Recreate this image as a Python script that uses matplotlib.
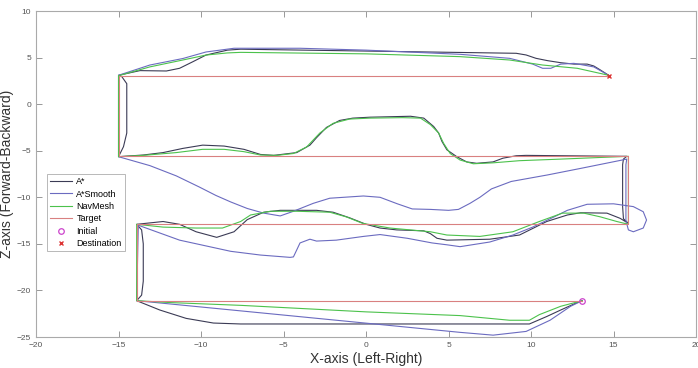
import numpy as np
import matplotlib.pyplot as plt

plt.rcParams['font.family'] = ['Liberation Sans', 'DejaVu Sans']

# Waypoints (x = left/right, z = forward/backward)
target_x = [13.1, -13.9, -13.9, 15.9, 15.9, -15.0, -15.0, 14.7]
target_z = [-21.1, -21.1, -12.9, -12.9, -5.55, -5.55, 3.05, 3.05]

astar_x = [13.1, 12.8, 11.8, 10.95, 9.9, 5.0, 0.0, -7.6, -9.25, -10.9, -12.5, -13.9,
           -13.6, -13.5, -13.5, -13.6, -13.9,
           -12.3, -11.3, -10.3, -9.05, -8.0, -7.2, -6.2, -5.2, -3.0, -2.0, -1.0, 0.0, 0.85,
           1.86, 3.5, 3.9, 4.3, 4.9, 7.5, 9.3, 10.95, 12.2, 13.0, 14.6, 15.4, 15.9,
           15.6, 15.55, 15.55, 15.6, 15.8,
           13.8, 9.7, 9.1, 8.3, 7.7, 6.7, 6.1, 5.5, 4.9, 4.6, 4.4, 4.1, 3.5, 2.7, 0.24,
           -0.8, -1.6, -2.4, -3.0, -3.4, -4.2, -5.6, -6.4, -7.4, -8.6, -9.9, -11.1, -12.3,
           -13.5, -15.0,
           -14.7, -14.5, -14.5, -14.5, -14.8, -15.0,
           -13.7, -12.1, -11.3, -10.5, -9.7, -8.4, -7.6, 0.0, 9.1, 9.7, 10.3, 11.0, 11.8,
           12.6, 13.4, 13.8, 14.2, 14.7]
astar_z = [-21.1, -21.3, -22.1, -22.8, -23.6, -23.6, -23.6, -23.6, -23.5, -23.0, -22.1, -21.1,
           -20.5, -19.0, -15.0, -13.5, -12.9,
           -12.6, -12.9, -13.7, -14.3, -13.7, -12.4, -11.6, -11.4, -11.4, -11.6, -12.2, -12.9, -13.3,
           -13.5, -13.6, -13.9, -14.4, -14.6, -14.5, -14.05, -12.6, -11.9, -11.66, -11.7, -12.26, -12.8,
           -12.3, -11.0, -6.5, -5.9, -5.6,
           -5.57, -5.5, -5.54, -5.8, -6.2, -6.35, -6.2, -5.64, -4.9, -4.0, -3.1, -2.4, -1.5, -1.3, -1.4,
           -1.5, -1.75, -2.5, -3.6, -4.4, -5.2, -5.5, -5.4, -4.85, -4.5, -4.4, -4.75, -5.2,
           -5.46, -5.64,
           -4.57, -3.1, 0.44, 2.2, 2.95, 3.1,
           3.6, 3.56, 3.85, 4.55, 5.27, 5.8, 5.9, 5.7, 5.46, 5.28, 4.92, 4.67, 4.45,
           4.3, 4.3, 4.1, 3.67, 3.1]

smooth_x = [13.1, 12.4, 11.15, 9.7, 7.7, 5.7, -13.9,
            -13.85, -13.8, -11.3, -8.2, -6.4, -4.6, -4.4, -4.0, -3.4, -3.0, -1.8, -0.16, 0.85,
            2.5, 4.0, 4.9, 5.7, 7.5, 8.9, 10.1, 11.4, 12.2, 13.4, 15.0, 16.2, 16.8, 17.0, 16.8,
            16.2, 15.9, 15.75, 15.75, 15.8,
            13.0, 11.0, 8.8, 7.6, 6.9, 6.3, 5.6, 5.0, 3.9, 2.8, 1.9, 0.85, -0.16, -2.2, -3.2,
            -4.4, -5.2, -6.2, -7.2, -8.2, -9.1, -10.1, -11.5, -13.1, -15.0,
            -15.0, -13.1, -11.1, -9.7, -8.0, -4.0, 0.0, 5.7, 8.7, 10.1, 10.7, 11.2, 11.8, 12.6,
            13.8, 14.7]
smooth_z = [-21.1, -21.7, -23.2, -24.4, -24.8, -24.5, -21.1,
            -17.0, -13.0, -14.6, -15.8, -16.2, -16.45, -16.4, -14.9, -14.5, -14.7, -14.6, -14.2, -14.0,
            -14.4, -14.9, -15.1, -15.3, -14.8, -14.05, -13.2, -12.1, -11.4, -10.75, -10.7, -11.0, -11.55,
            -12.44, -13.3, -13.7, -13.5, -12.5, -6.5, -5.9,
            -6.9, -7.6, -8.3, -9.1, -10.0, -10.65, -11.3, -11.4, -11.3, -11.25, -10.7, -10.0, -9.86,
            -10.1, -10.65, -11.5, -12.0, -11.7, -11.2, -10.5, -9.8, -8.9, -7.7, -6.6, -5.64,
            3.1, 4.2, 4.9, 5.6, 6.0, 6.0, 5.8, 5.35, 4.92, 4.3, 3.85, 3.85, 4.3, 4.38, 4.0, 3.1]

navmesh_x = [13.1, 11.8, 10.5, 9.9, 8.7, 5.7, 0.0, -7.6, -11.9, -13.9, -13.9,
             -12.3, -10.3, -8.7, -7.6, -7.0, -5.8, -4.2, -2.2, -1.2, -0.2, 1.45, 3.9, 4.9, 6.9,
             8.9, 10.5, 11.9, 13.2, 14.2, 15.2, 15.9, 15.9,
             11.8, 9.3, 7.7, 6.5, 5.7, 5.1, 4.7, 4.4, 3.9, 3.3, 2.2, 0.24, -1.0, -2.0, -2.8,
             -3.6, -4.4, -5.4, -6.4, -7.4, -8.6, -9.9, -11.5, -13.5, -15.0, -15.0,
             -13.1, -11.1, -9.7, -8.4, -7.6, 0.0, 5.7, 8.7, 10.7, 12.8, 14.7]
navmesh_z = [-21.1, -21.7, -22.6, -23.2, -23.2, -22.7, -22.3, -21.6, -21.3, -21.1, -12.9,
             -13.2, -13.3, -13.3, -12.6, -11.9, -11.5, -11.5, -11.6, -12.1, -12.8, -13.3, -13.7,
             -14.05, -14.2, -13.7, -12.6, -11.7, -11.7, -12.1, -12.6, -12.9, -5.6,
             -5.9, -6.07, -6.3, -6.4, -6.0, -5.3, -4.2, -3.1, -2.2, -1.5, -1.45, -1.5, -1.6, -2.06,
             -3.1, -4.6, -5.3, -5.5, -5.46, -5.1, -4.85, -4.85, -5.2, -5.5, -5.64, 3.05,
             4.0, 4.74, 5.27, 5.5, 5.56, 5.4, 5.1, 4.74, 4.2, 3.85, 3.1]

initial = (13.1, -21.1)
destination = (14.7, 3.05)

fig = plt.figure(figsize=(6.98, 3.68), dpi=100)
ax = fig.add_axes([0.0516, 0.0842, 0.9456, 0.8859])

ax.plot(astar_x, astar_z, color='#3b3b55', linewidth=0.8, label='A*')
ax.plot(smooth_x, smooth_z, color='#6b6bc0', linewidth=0.8, label='A*Smooth')
ax.plot(navmesh_x, navmesh_z, color='#4cc24c', linewidth=0.8, label='NavMesh')
ax.plot(target_x, target_z, color='#d98080', linewidth=0.8, label='Target')
ax.plot(initial[0], initial[1], 'o', color='#cc44cc', markerfacecolor='none',
        markersize=4, markeredgewidth=0.9, label='Initial')
ax.plot(destination[0], destination[1], 'x', color='#dd3333',
        markersize=3, markeredgewidth=1.0, label='Destination')

ax.set_xlim(-20, 20)
ax.set_ylim(-25, 10)
ax.set_xticks(np.arange(-20, 21, 5))
ax.set_yticks(np.arange(-25, 11, 5))
ax.tick_params(direction='in', top=True, right=True, labelsize=6,
               labelcolor='#555555', color='#888888', length=4, width=0.6)
for s in ax.spines.values():
    s.set_color('#aaaaaa')
    s.set_linewidth(0.8)

ax.set_xlabel('X-axis (Left-Right)', fontsize=10, color='#333333', labelpad=2)
ax.set_ylabel('Z-axis (Forward-Backward)', fontsize=10, color='#333333')
ax.yaxis.set_label_coords(-0.034, 0.5)

leg = ax.legend(loc='upper left', bbox_to_anchor=(0.0167, 0.5), fontsize=6.5,
                handlelength=2.4, frameon=True, fancybox=False, borderpad=0.35,
                labelspacing=0.38, handletextpad=0.5, borderaxespad=0)
leg.get_frame().set_edgecolor('#999999')
leg.get_frame().set_linewidth(0.6)

fig.savefig('out.png', dpi=100)
